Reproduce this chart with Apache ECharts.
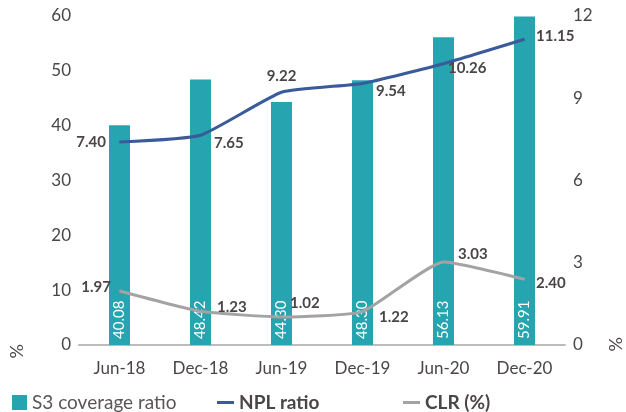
<!DOCTYPE html>
<html>
<head>
<meta charset="utf-8">
<script src="https://cdn.jsdelivr.net/npm/echarts@6/dist/echarts.min.js"></script>
<style>
  html, body { margin: 0; padding: 0; background: #fff; }
  #chart { width: 626px; height: 412px; }
</style>
</head>
<body>
<div id="chart"></div>
<script>
const categories = ['Jun-18', 'Dec-18', 'Jun-19', 'Dec-19', 'Jun-20', 'Dec-20']
const s3Coverage = [40.08, 48.42, 44.30, 48.30, 56.13, 59.91]
const nplRatio = [7.40, 7.65, 9.22, 9.54, 10.26, 11.15]
const clrRatio = [1.97, 1.23, 1.02, 1.22, 3.03, 2.40]

// where each line label sits next to its point
const nplLabelPos = [
  { position: 'left', offset: [-5, 0] },
  { position: 'right', offset: [5, 8] },
  { position: 'top', offset: [0, 0] },
  { position: 'right', offset: [5, 8] },
  { position: 'right', offset: [-4, 4] },
  { position: 'right', offset: [3, -3] }
]
const clrLabelPos = [
  { position: 'left', offset: [0, -4] },
  { position: 'right', offset: [8, -4] },
  { position: 'right', offset: [0, -14] },
  { position: 'right', offset: [8, 6] },
  { position: 'right', offset: [6, -8] },
  { position: 'right', offset: [3, 4] }
]

const teal = '#26a4b0'
const blue = '#3a5a9b'
const grey = '#a3a3a3'
const textCol = '#4a4546'
const font = 'Lato'

function lineData(values, pos) {
  return values.map(function (v, i) {
    return { value: v, label: pos[i] }
  })
}

const chart = echarts.init(document.getElementById('chart'))

const option = {
  animation: false,
  textStyle: { fontFamily: font },
  grid: { left: 79, right: 61, top: 16, bottom: 67 },
  legend: [
    {
      data: ['S3 coverage ratio'],
      left: 7, top: 388,
      icon: 'rect', itemWidth: 15, itemHeight: 15, itemGap: 10,
      textStyle: { fontSize: 19, color: '#5a5556', fontFamily: font }
    },
    {
      data: ['NPL ratio'],
      left: 212, top: 388,
      icon: 'rect', itemWidth: 17, itemHeight: 3,
      textStyle: { fontSize: 19, fontWeight: 'bold', color: textCol, fontFamily: font }
    },
    {
      data: ['CLR (%)'],
      left: 398, top: 388,
      icon: 'rect', itemWidth: 17, itemHeight: 3,
      textStyle: { fontSize: 19, fontWeight: 'bold', color: textCol, fontFamily: font }
    }
  ],
  xAxis: {
    type: 'category',
    data: categories,
    axisLine: { lineStyle: { color: '#bcbcbc', width: 2 } },
    axisTick: { show: false },
    axisLabel: { color: '#4a4546', fontSize: 17, margin: 15, fontFamily: font }
  },
  yAxis: [
    {
      type: 'value', min: 0, max: 60, interval: 10,
      splitLine: { show: false },
      axisLine: { show: false },
      axisLabel: { color: '#4a4546', fontSize: 17, margin: 8, fontFamily: font }
    },
    {
      type: 'value', min: 0, max: 12, interval: 3,
      splitLine: { show: false },
      axisLine: { show: false },
      axisLabel: { color: '#4a4546', fontSize: 17, margin: 8, fontFamily: font }
    }
  ],
  graphic: [
    { type: 'text', left: 8, top: 344, rotation: Math.PI / 2,
      style: { text: '%', fontSize: 18, fill: '#4a4546', fontFamily: font } },
    { type: 'text', left: 607, top: 337, rotation: Math.PI / 2,
      style: { text: '%', fontSize: 18, fill: '#4a4546', fontFamily: font } }
  ],
  series: [
    {
      name: 'S3 coverage ratio',
      type: 'bar',
      data: s3Coverage,
      barWidth: 21,
      itemStyle: { color: teal },
      label: {
        show: true,
        position: 'insideBottom',
        rotate: 90,
        align: 'left',
        verticalAlign: 'middle',
        distance: 6,
        color: '#fff',
        fontSize: 15,
        fontFamily: font,
        formatter: function (p) { return p.value.toFixed(2) }
      }
    },
    {
      name: 'NPL ratio',
      type: 'line',
      yAxisIndex: 1,
      data: lineData(nplRatio, nplLabelPos),
      smooth: 0.15,
      symbol: 'circle',
      symbolSize: 1,
      lineStyle: { color: blue, width: 3 },
      itemStyle: { color: blue },
      label: {
        show: true,
        color: textCol, fontWeight: 'bold', fontSize: 15, fontFamily: font, distance: 8,
        formatter: function (p) { return p.value.toFixed(2) }
      },
      z: 3
    },
    {
      name: 'CLR (%)',
      type: 'line',
      yAxisIndex: 1,
      data: lineData(clrRatio, clrLabelPos),
      smooth: 0.15,
      symbol: 'circle',
      symbolSize: 1,
      lineStyle: { color: grey, width: 3 },
      itemStyle: { color: grey },
      label: {
        show: true,
        color: textCol, fontWeight: 'bold', fontSize: 15, fontFamily: font, distance: 8,
        formatter: function (p) { return p.value.toFixed(2) }
      },
      z: 3
    }
  ]
}

chart.setOption(option)
</script>
</body>
</html>
